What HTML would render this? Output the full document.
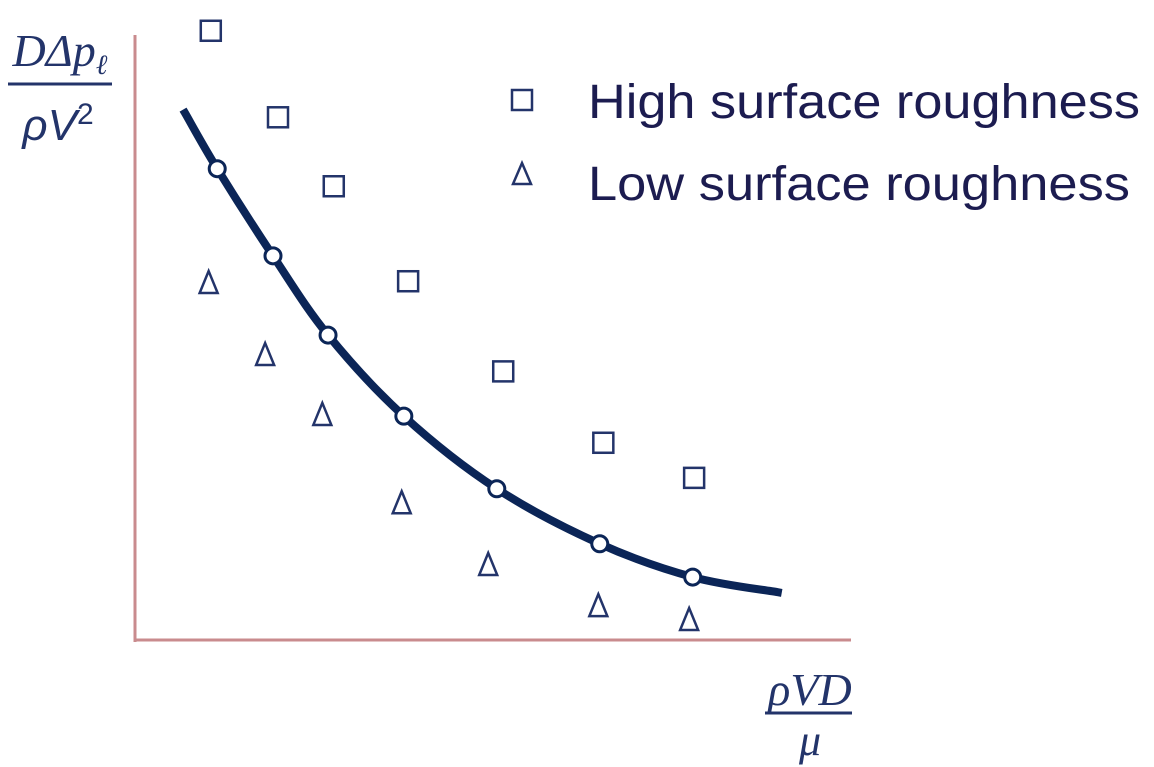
<!DOCTYPE html>
<html><head><meta charset="utf-8"><style>
body{margin:0;background:#fff;}
svg{display:block}
</style></head><body>
<svg id="chart" width="1154" height="767" viewBox="0 0 1154 767" xmlns="http://www.w3.org/2000/svg">
<g font-family="Liberation Serif, serif" font-style="italic" fill="#23346a">
<text x="60" y="66" font-size="46" text-anchor="middle">DΔp<tspan font-size="28" dy="8">ℓ</tspan></text>
<line x1="8" y1="84" x2="112" y2="84" stroke="#23346a" stroke-width="3"/>
<text x="58" y="140" font-size="44" text-anchor="middle" font-family="Liberation Sans, sans-serif">ρV<tspan font-size="30" dy="-16" font-style="normal">2</tspan></text>
</g>
<g font-family="Liberation Serif, serif" font-style="italic" fill="#23346a">
<text x="810" y="705" font-size="46" text-anchor="middle">ρVD</text>
<line x1="765" y1="713" x2="852" y2="713" stroke="#23346a" stroke-width="3"/>
<text x="810" y="755" font-size="44" text-anchor="middle">μ</text>
</g>
<line x1="135" y1="35" x2="135" y2="642" stroke="#c98b8e" stroke-width="3"/>
<line x1="134" y1="640" x2="851" y2="640" stroke="#c98b8e" stroke-width="3"/>
<g id="marks"></g>
<g font-family="Liberation Sans, sans-serif" font-size="48" fill="#1c1c50">
<rect x="512" y="90" width="20" height="20" fill="none" stroke="#23346a" stroke-width="2.5"/>
<text x="588" y="118" textLength="552" lengthAdjust="spacingAndGlyphs">High surface roughness</text>
<path d="M522,163 L531,184 L513,184 Z" fill="none" stroke="#23346a" stroke-width="2.5"/>
<text x="588" y="200" textLength="542" lengthAdjust="spacingAndGlyphs">Low surface roughness</text>
</g>
</svg>
<script>
const highX=[10.6,20,27.8,38.2,51.5,65.5,78.2];
const highY=[100.7,86.4,75,59.3,44.4,32.6,26.8];
const lowX=[10.3,18.2,26.2,37.3,49.4,64.8,77.5];
const lowY=[59,47.1,37.2,22.6,12.4,5.6,3.3];
const smoothX=[11.5,19.3,27,37.6,50.6,65,78];
const smoothY=[77.9,63.5,50.4,37,25,15.9,10.4];
const curveX=[7,11.5,19.3,27,37.6,50.6,65,78,89.9];
const curveY=[87.1,77.9,63.5,50.4,37,25,15.9,10.4,7.9];
const xs=v=>135+v*7.15, ys=v=>640-v*6.05;
const NS="http://www.w3.org/2000/svg";
const g=document.getElementById('marks');
const C="#23346a";
const P=curveX.map((x,i)=>[xs(x),ys(curveY[i])]);
let d=`M${P[0][0]},${P[0][1]}`;
for(let i=0;i<P.length-1;i++){
  const p0=P[i-1]||P[i],p1=P[i],p2=P[i+1],p3=P[i+2]||P[i+1];
  d+=` C${p1[0]+(p2[0]-p0[0])/6},${p1[1]+(p2[1]-p0[1])/6} ${p2[0]-(p3[0]-p1[0])/6},${p2[1]-(p3[1]-p1[1])/6} ${p2[0]},${p2[1]}`;
}
const path=document.createElementNS(NS,'path');
path.setAttribute('d',d);path.setAttribute('fill','none');path.setAttribute('stroke','#0b2557');path.setAttribute('stroke-width','8');path.setAttribute('stroke-linecap','square');


g.appendChild(path);
smoothX.forEach((x,i)=>{
  const c=document.createElementNS(NS,'circle');
  c.setAttribute('cx',xs(x));c.setAttribute('cy',ys(smoothY[i]));c.setAttribute('r','8');
  c.setAttribute('fill','#fff');c.setAttribute('stroke','#0b2557');c.setAttribute('stroke-width','3');
  
  
  g.appendChild(c);
});
highX.forEach((x,i)=>{
  const r=document.createElementNS(NS,'rect');
  r.setAttribute('x',xs(x)-10);r.setAttribute('y',ys(highY[i])-10);r.setAttribute('width','20');r.setAttribute('height','20');
  r.setAttribute('fill','none');r.setAttribute('stroke',C);r.setAttribute('stroke-width','2.5');
  
  
  g.appendChild(r);
});
lowX.forEach((x,i)=>{
  const cx=xs(x),cy=ys(lowY[i]);
  const t=document.createElementNS(NS,'path');
  t.setAttribute('d',`M${cx},${cy-12} L${cx+9},${cy+10} L${cx-9},${cy+10} Z`);
  t.setAttribute('fill','none');t.setAttribute('stroke',C);t.setAttribute('stroke-width','2.5');
  
  
  g.appendChild(t);
});
</script>
</body></html>
